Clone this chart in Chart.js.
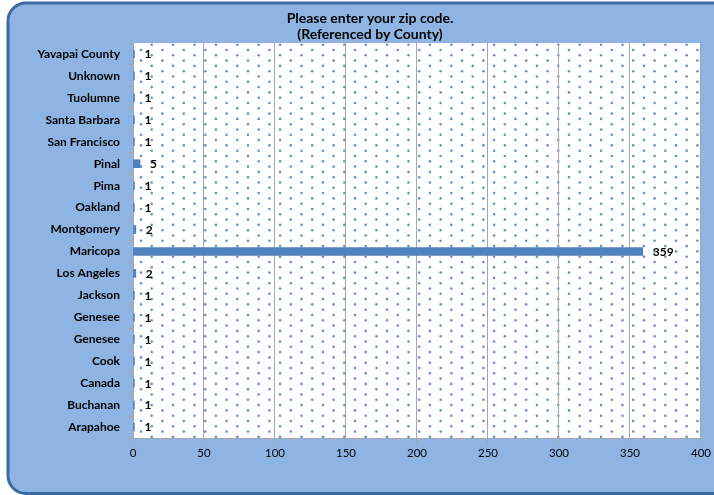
<!DOCTYPE html>
<html>
<head>
<meta charset="utf-8">
<script src="https://cdn.jsdelivr.net/npm/chart.js@4/dist/chart.umd.min.js"></script>
<style>
  html, body { margin: 0; padding: 0; background: #ffffff; overflow: hidden; }
  #wrap { width: 714px; height: 495px; }
</style>
</head>
<body>
<div id="wrap"><canvas id="c" width="714" height="495"></canvas></div>
<script>
const categories = ['Yavapai County', 'Unknown', 'Tuolumne', 'Santa Barbara', 'San Francisco', 'Pinal', 'Pima', 'Oakland', 'Montgomery', 'Maricopa', 'Los Angeles', 'Jackson', 'Genesee', 'Genesee', 'Cook', 'Canada', 'Buchanan', 'Arapahoe'];
const counts = [1, 1, 1, 1, 1, 5, 1, 1, 2, 359, 2, 1, 1, 1, 1, 1, 1, 1];
const titleLines = ['Please enter your zip code.', '(Referenced by County)'];
const xMin = 0, xMax = 400, xStep = 50;

const FONT = 'Lato, "Open Sans", sans-serif';

const backgroundPlugin = {
  id: 'bgPanel',
  beforeDraw(chart) {
    const ctx = chart.ctx;
    const W = chart.width, H = chart.height;
    ctx.save();
    ctx.fillStyle = '#ffffff';
    ctx.fillRect(0, 0, W, H);
    // rounded outer panel; its right side lies beyond the canvas edge
    const x = 8, y = 3, right = W + 40, h = 490.5, r = 18;
    ctx.beginPath();
    ctx.moveTo(right, y);
    ctx.lineTo(x + r, y);
    ctx.arcTo(x, y, x, y + r, r);
    ctx.lineTo(x, y + h - r);
    ctx.arcTo(x, y + h, x + r, y + h, r);
    ctx.lineTo(right, y + h);
    ctx.lineTo(right, y);
    ctx.closePath();
    ctx.fillStyle = '#8EB4E3';
    ctx.fill();
    ctx.beginPath();
    ctx.moveTo(right, y);
    ctx.lineTo(x + r, y);
    ctx.arcTo(x, y, x, y + r, r);
    ctx.lineTo(x, y + h - r);
    ctx.arcTo(x, y + h, x + r, y + h, r);
    ctx.lineTo(right, y + h);
    ctx.lineWidth = 3;
    ctx.strokeStyle = '#3C6A9E';
    ctx.stroke();
    // plot area white with dotted pattern
    const a = chart.chartArea;
    ctx.fillStyle = '#ffffff';
    ctx.fillRect(a.left, a.top, a.right - a.left, a.bottom - a.top);
    ctx.beginPath();
    ctx.rect(a.left, a.top, a.right - a.left, a.bottom - a.top);
    ctx.clip();
    ctx.fillStyle = 'rgba(74,124,200,0.85)';
    const px = 21.4, py = 5.3;
    let row = 0;
    for (let yy = a.top + 1.7; yy < a.bottom; yy += py, row++) {
      const off = (row % 2) ? px / 2 : 0;
      for (let xx = a.left - 2.7 + off; xx < a.right + 2; xx += px) {
        ctx.beginPath();
        ctx.arc(xx, yy, 1.3, 0, Math.PI * 2);
        ctx.fill();
      }
    }
    ctx.restore();
  }
};

const textPlugin = {
  id: 'texts',
  afterDatasetsDraw(chart) {
    const ctx = chart.ctx;
    const meta = chart.getDatasetMeta(0);
    ctx.save();
    ctx.font = 'bold 12px ' + FONT;
    ctx.fillStyle = '#000000';
    ctx.textAlign = 'left';
    ctx.textBaseline = 'middle';
    meta.data.forEach((bar, i) => {
      ctx.fillText(String(counts[i]), bar.x + 10, bar.y + 0.5);
    });
    // chart title
    ctx.font = 'bold 14px ' + FONT;
    ctx.textAlign = 'center';
    ctx.textBaseline = 'alphabetic';
    ctx.fillText(titleLines[0], 370, 23);
    ctx.fillText(titleLines[1], 370, 39);
    ctx.restore();
  }
};

new Chart(document.getElementById('c'), {
  type: 'bar',
  data: {
    labels: categories,
    datasets: [{
      data: counts,
      backgroundColor: '#4F81BD',
      borderWidth: 0,
      barThickness: 8
    }]
  },
  options: {
    indexAxis: 'y',
    responsive: false,
    animation: false,
    devicePixelRatio: 1,
    layout: { padding: { left: 0, right: 11, top: 43, bottom: 0 } },
    plugins: {
      legend: { display: false },
      tooltip: { enabled: false },
      title: { display: false }
    },
    scales: {
      x: {
        min: xMin,
        max: xMax,
        ticks: {
          stepSize: xStep,
          color: '#000000',
          font: { family: FONT, size: 11.5 },
          padding: 3
        },
        grid: {
          color: '#A6A6A6',
          lineWidth: 1,
          tickLength: 5,
          drawTicks: true
        },
        border: { display: true, color: '#A6A6A6' },
        afterFit(s) { s.height = 57; }
      },
      y: {
        ticks: {
          color: '#000000',
          font: { family: FONT, size: 12, weight: 'bold' },
          padding: 8,
          autoSkip: false
        },
        grid: {
          drawOnChartArea: false,
          drawTicks: true,
          tickLength: 5,
          color: '#A6A6A6',
          offset: true
        },
        border: { display: true, color: '#A6A6A6' },
        afterFit(s) { s.width = 133; }
      }
    }
  },
  plugins: [backgroundPlugin, textPlugin]
});
</script>
</body>
</html>
